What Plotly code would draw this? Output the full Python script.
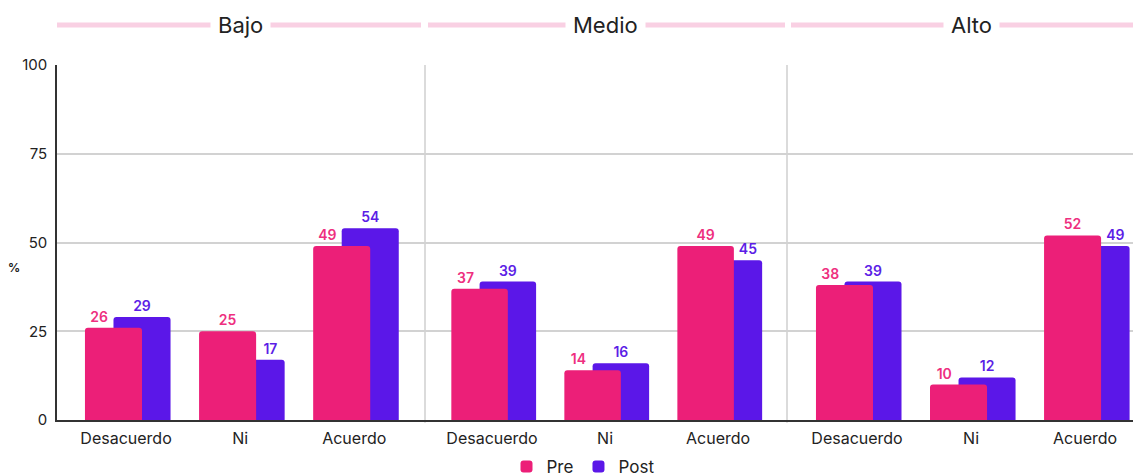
import plotly.graph_objects as go

categories = ["Desacuerdo", "Ni", "Acuerdo"]
panels = ["Bajo", "Medio", "Alto"]
pre_values = {
    "Bajo": [26, 25, 49],
    "Medio": [37, 14, 49],
    "Alto": [38, 10, 52],
}
post_values = {
    "Bajo": [29, 17, 54],
    "Medio": [39, 16, 45],
    "Alto": [39, 12, 49],
}
y_ticks = [0, 25, 50, 75, 100]

PRE = "#ec1f78"
POST = "#5b17e8"
PRE_TXT = "#ee2f7f"
POST_TXT = "#5c1ee6"
FONT = "Inter"

# the page body adds an 8px offset; size the figure so it fills the 1141x476 view
OFF = 8
W, H = 1141 - OFF, 476 - OFF
ML, MR, MT, MB = 57 - OFF, 0, 65 - OFF, 476 - 420
pw = W - ML - MR
ph = H - MT - MB

def px(x):
    """screen x (px) -> paper fraction"""
    return (x - OFF - ML) / pw

bounds = [57, 425, 787, 1141]
domains = [[px(bounds[i]), px(bounds[i + 1])] for i in range(3)]
ranges = [[-0.605, 2.62], [-0.593, 2.61], [-0.614, 2.49]]

BW = 0.5
PRE_OFF, POST_OFF = -0.36, -0.11
OVERLAP = PRE_OFF + BW - POST_OFF  # width shared by both bars

fig = go.Figure()
for i, p in enumerate(panels):
    xa = "x" if i == 0 else f"x{i+1}"
    pre, post = pre_values[p], post_values[p]
    fig.add_trace(go.Bar(
        x=categories, y=post, name="Post", xaxis=xa, yaxis="y",
        marker=dict(color=POST, line=dict(width=0)), width=BW, offset=POST_OFF,
        showlegend=(i == 0), legendrank=2, legendgroup="post",
    ))
    fig.add_trace(go.Bar(
        x=categories, y=pre, name="Pre", xaxis=xa, yaxis="y",
        marker=dict(color=PRE, line=dict(width=0)), width=BW, offset=PRE_OFF,
        showlegend=(i == 0), legendrank=1, legendgroup="pre",
    ))
    # transparent label carriers: a lower bar's label sits over its un-shared part
    pre_off = [PRE_OFF for a, b in zip(pre, post)]
    pre_w = [BW if a >= b else BW - OVERLAP for a, b in zip(pre, post)]
    post_off = [POST_OFF if b > a else POST_OFF + OVERLAP for a, b in zip(pre, post)]
    post_w = [BW if b > a else BW - OVERLAP for a, b in zip(pre, post)]
    for vals, offs, ws, col, grp in ((post, post_off, post_w, POST_TXT, "post"),
                                     (pre, pre_off, pre_w, PRE_TXT, "pre")):
        fig.add_trace(go.Bar(
            x=categories, y=vals, xaxis=xa, yaxis="y",
            marker=dict(color="rgba(0,0,0,0)", line=dict(width=0)), width=ws, offset=offs,
            text=vals, textposition="outside", cliponaxis=False,
            textfont=dict(color=col, size=14, family=FONT, weight=600),
            showlegend=False, hoverinfo="skip", legendgroup=grp,
        ))

layout = dict(
    width=W, height=H,
    margin=dict(l=ML, r=MR, t=MT, b=MB, pad=0, autoexpand=False),
    paper_bgcolor="white", plot_bgcolor="white",
    barmode="overlay", barcornerradius=3,
    font=dict(family=FONT, color="#222"),
    yaxis=dict(
        range=[0, 100], tickvals=y_ticks, showgrid=True, gridcolor="#d2d2d2", gridwidth=1.5,
        zeroline=False, showline=True, linecolor="#333", linewidth=1.5,
        ticks="", ticklabelstandoff=5, tickfont=dict(size=15, color="#222"),
        anchor="x", fixedrange=True,
    ),
    legend=dict(
        orientation="h", x=px(583), xanchor="center", y=(420 - 467) / ph, yanchor="middle",
        font=dict(size=17, color="#222"), traceorder="normal", itemwidth=30,
    ),
)
for i in range(3):
    key = "xaxis" if i == 0 else f"xaxis{i+1}"
    layout[key] = dict(
        domain=domains[i], range=ranges[i], type="category",
        showgrid=False, zeroline=False, showline=True, linecolor="#333", linewidth=2,
        ticks="", ticklabelstandoff=3, tickfont=dict(size=16, color="#222"),
        anchor="y", fixedrange=True, automargin=False,
    )
fig.update_layout(**layout)

# y-axis unit label
fig.add_annotation(x=px(14), xref="paper", y=(420 - 267) / ph, yref="paper", text="<b>%</b>",
                   showarrow=False, font=dict(size=12, color="#222", family=FONT),
                   xanchor="center", yanchor="middle")

# vertical separators
for b in bounds[1:3]:
    fig.add_shape(type="line", xref="paper", yref="paper", x0=px(b), x1=px(b),
                  y0=-0.008, y1=1, line=dict(color="#cfcfcf", width=1.5), layer="below")

# panel headers: pink rule + title
yh = 1 + (65 - 25) / ph
line_spans = [(57, 421), (428, 785), (791, 1141)]
for i, p in enumerate(panels):
    x0, x1 = line_spans[i]
    fig.add_shape(type="line", xref="paper", yref="paper", x0=px(x0), x1=px(x1),
                  y0=yh, y1=yh, line=dict(color="#f9d0e3", width=5))
    xr = "x" if i == 0 else f"x{i+1}"
    fig.add_annotation(x=1, xref=xr, y=yh, yref="paper", text=p, showarrow=False,
                       font=dict(size=22, color="#222", family=FONT, weight=400),
                       bgcolor="white", borderpad=7, xanchor="center", yanchor="middle")

fig.write_html("out.html")
